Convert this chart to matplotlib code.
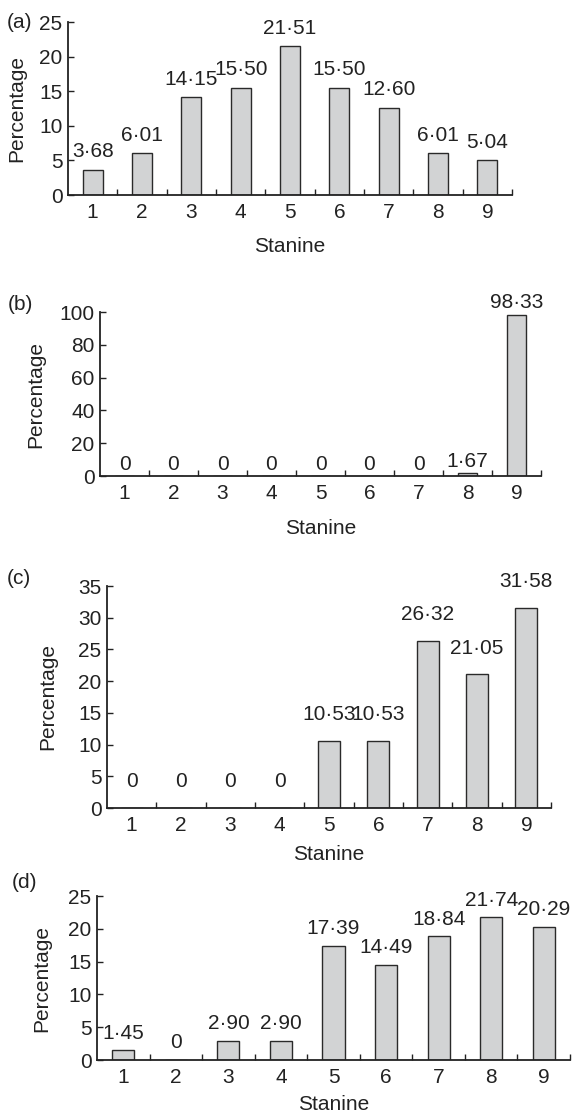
import matplotlib
matplotlib.use("Agg")
import matplotlib.pyplot as plt

plt.rcParams['font.family'] = ['Liberation Sans', 'DejaVu Sans']

stanines = [1, 2, 3, 4, 5, 6, 7, 8, 9]
tick_labels = ['1', '2', '3', '4', '5', '6', '7', '8', '9']

values_a = [3.68, 6.01, 14.15, 15.50, 21.51, 15.50, 12.60, 6.01, 5.04]
values_b = [0, 0, 0, 0, 0, 0, 0, 1.67, 98.33]
values_c = [0, 0, 0, 0, 10.53, 10.53, 26.32, 21.05, 31.58]
values_d = [1.45, 0, 2.90, 2.90, 17.39, 14.49, 18.84, 21.74, 20.29]

labels_a = ['3·68', '6·01', '14·15', '15·50', '21·51', '15·50', '12·60', '6·01', '5·04']
labels_b = ['0', '0', '0', '0', '0', '0', '0', '1·67', '98·33']
labels_c = ['0', '0', '0', '0', '10·53', '10·53', '26·32', '21·05', '31·58']
labels_d = ['1·45', '0', '2·90', '2·90', '17·39', '14·49', '18·84', '21·74', '20·29']

W, H = 575, 1115
fig = plt.figure(figsize=(W / 100, H / 100), dpi=100)

TXT = '#222222'
FS = 15

panels = [
    dict(v=values_a, l=labels_a, name='(a)', box=(68, 512, 22, 195), ymax=25, step=5, off=9,
         bw=0.4, plab=(7, 22), ylx=17, xly=246),
    dict(v=values_b, l=labels_b, name='(b)', box=(100, 541, 312, 476), ymax=100, step=20, off=4.5,
         bw=0.4, plab=(8, 304), ylx=36, xly=529),
    dict(v=values_c, l=labels_c, name='(c)', box=(107, 551, 586, 808), ymax=35, step=5, off=15,
         bw=0.45, plab=(7, 578), ylx=48, xly=855),
    dict(v=values_d, l=labels_d, name='(d)', box=(97, 570, 896, 1060), ymax=25, step=5, off=8.5,
         bw=0.42, plab=(12, 882), ylx=42, xly=1104),
]

for p in panels:
    L, R, T, B = p['box']
    ax = fig.add_axes([L / W, 1 - B / H, (R - L) / W, (B - T) / H])
    ax.bar(stanines, p['v'], width=p['bw'], color='#d2d3d4', edgecolor='#2a2a2a',
           linewidth=1.0, zorder=2)
    for x, v, s in zip(stanines, p['v'], p['l']):
        ax.annotate(s, (x, v), xytext=(0, p['off']), textcoords='offset points',
                    ha='center', va='baseline', fontsize=FS, color=TXT,
                    annotation_clip=False)
    ax.set_xlim(0.5, 9.5)
    ax.set_ylim(0, p['ymax'])
    ax.set_yticks(list(range(0, p['ymax'] + 1, p['step'])))
    ax.set_xticks(stanines)
    ax.set_xticklabels(tick_labels)
    ax.set_xticks([x + 0.5 for x in stanines], minor=True)
    for side in ('top', 'right'):
        ax.spines[side].set_visible(False)
    for side in ('left', 'bottom'):
        ax.spines[side].set_linewidth(1.3)
        ax.spines[side].set_color('#222222')
        ax.spines[side].set_zorder(3)
    ax.tick_params(axis='x', which='major', length=0, pad=6, labelsize=FS, labelcolor=TXT)
    ax.tick_params(axis='x', which='minor', direction='in', length=4, width=1.0, color='#222222')
    ax.tick_params(axis='y', direction='in', length=4, width=1.0, color='#222222', pad=4,
                   labelsize=FS, labelcolor=TXT)
    ax.patch.set_alpha(0)

    fig.text(p['plab'][0] / W, 1 - p['plab'][1] / H, p['name'], ha='left', va='center',
             fontsize=FS, color=TXT)
    fig.text(p['ylx'] / W, 1 - ((T + B) / 2) / H, 'Percentage', rotation=90,
             ha='center', va='center', fontsize=FS, color=TXT)
    fig.text(((L + R) / 2) / W, 1 - p['xly'] / H, 'Stanine', ha='center', va='center',
             fontsize=FS, color=TXT)

fig.savefig('out.png', dpi=100, facecolor='white')
